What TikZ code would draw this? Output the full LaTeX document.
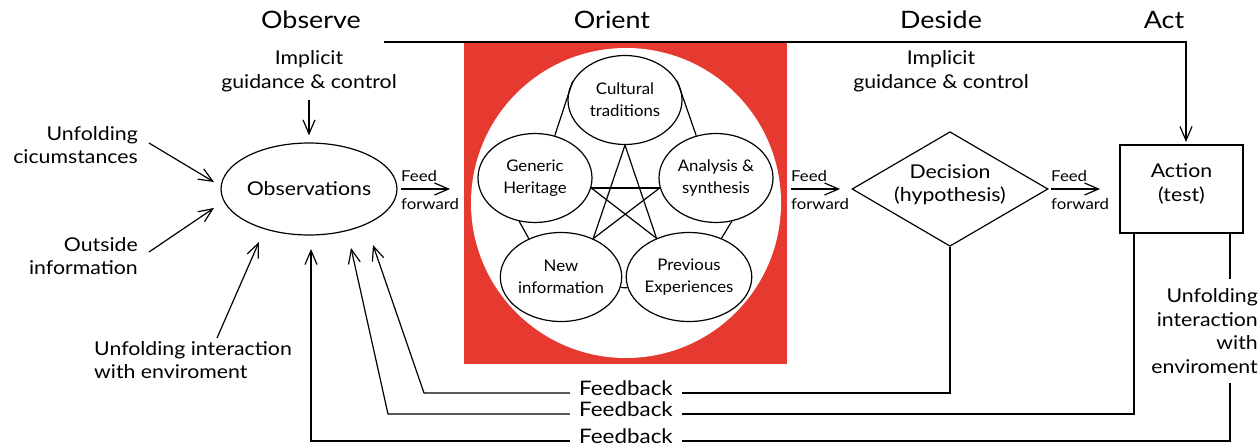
\documentclass[tikz,border=0pt]{standalone}
\usepackage{fontspec}
\setmainfont{Lato}[FakeStretch=1.12]
\newfontfamily\ideafont{Lato}[FakeStretch=1.05]
\usetikzlibrary{shapes.geometric}
\usetikzlibrary{arrows.meta}
\definecolor{orientred}{HTML}{E63A30}
\tikzset{
  phase/.style={font=\fontsize{24}{28}\selectfont, inner sep=0pt},
  lbl/.style={font=\fontsize{19}{23.5}\selectfont, inner sep=0pt},
  ff/.style={font=\fontsize{15}{20}\selectfont, inner sep=0pt},
  fb/.style={font=\fontsize{20}{24}\selectfont, inner xsep=9pt, inner ysep=0pt},
  idea/.style={ellipse, draw, line width=1.2pt, minimum width=114pt,
    minimum height=89pt, inner sep=0pt, align=center,
    font=\ideafont\fontsize{16}{22}\selectfont},
  link/.style={line width=1.2pt},
  arr/.style={line width=1.2pt, -{Straight Barb[length=14pt,width=12pt]}},
}

\begin{document}
\begin{tikzpicture}[x=1pt, y=-1pt]
  \useasboundingbox (0,0) rectangle (1260,447);

  % Orient backdrop
  \fill[orientred] (464,42) rectangle (787,364);
  \fill[white] (626,203) circle[radius=155pt];

  % Phase titles
  \node[phase] (observe) at (311,20) {Observe};
  \node[phase] (orient) at (612,20) {Orient};
  \node[phase] (deside) at (941,20) {Deside};
  \node[phase] (act) at (1164,20) {Act};

  % Define nodes
  \node[ellipse, draw, link, minimum width=174pt, minimum height=92pt,
    inner sep=0pt, lbl] (obs) at (309,189) {Observations};
  \node[diamond, draw, link, aspect=1.71, minimum width=195pt,
    minimum height=114pt, lbl, align=center, text depth=12pt] (dec) at (950,189) {Decision\\(hypothesis)};
  \node[draw, link, minimum width=123pt, minimum height=88pt, lbl,
    align=center, text depth=13pt] (action) at (1181.5,189) {Action\\(test)};

  \node[idea] (tradition) at (625,100) {Cultural\\traditions};
  \node[idea] (heritage) at (535,178) {Generic\\Heritage};
  \node[idea] (analysis) at (716,178) {Analysis \&\\synthesis};
  \node[idea] (newinfo) at (561,277) {New\\information};
  \node[idea] (experience) at (689,277) {Previous\\Experiences};

  % Labels
  \node[lbl, align=center] (guideobs) at (309,71) {Implicit\\guidance \& control};
  \node[lbl, align=center] (guideact) at (941,71) {Implicit\\guidance \& control};
  \node[lbl, align=right, anchor=east] (circum) at (138,145) {Unfolding\\cicumstances};
  \node[lbl, align=right, anchor=east] (outside) at (138,256) {Outside\\information};
  \node[lbl, align=left, anchor=west] (interact) at (94,360) {Unfolding interaction\\with enviroment};
  \node[lbl, align=right, anchor=east, inner ysep=9pt] (envact) at (1258,331)
    {Unfolding\\interaction\\with\\enviroment};

  \node[fb, anchor=mid] (fb1) at (626,393) {Feedback};
  \node[fb, anchor=mid] (fb2) at (626,414) {Feedback};
  \node[fb, anchor=mid] (fb3) at (626,441) {Feedback};

  % Free ends
  \coordinate (guide) at (384,42);
  \coordinate (actin) at (1186,142);
  \coordinate (actl) at ([xshift=-47.5pt]action.south);
  \coordinate (actr) at ([xshift=48.5pt]action.south);
  \coordinate (tipcirc) at (214,182);
  \coordinate (tipout) at (214,208);
  \coordinate (tipint) at (259,242);
  \coordinate (bend1) at (424,393);
  \coordinate (bend2) at (388,414);
  \coordinate (tipfb1) at (373,245);
  \coordinate (tipfb2) at (351,248);
  \coordinate (tipfb3) at (311,249);

  % Feed forward
  \foreach \fx/\fend in {401/450, 791/840, 1051/1100} {
    \node[ff, anchor=base west] (feed\fx) at (\fx,181) {Feed};
    \node[ff, anchor=base west] (fwd\fx) at (\fx,209) {forward};
    \draw[arr] (\fx,189) -- (\fend,189);
  }

  % Connect nodes
  \draw[arr] (guide) -| (actin);
  \draw[arr, shorten <=8pt, shorten >=7pt] (guideobs.south) -- (obs.north);
  \draw[arr] ([shift={(11,-2)}]circum.east) -- (tipcirc);
  \draw[arr] ([shift={(11,-4)}]outside.east) -- (tipout);
  \draw[arr] ([shift={(24,-3)}]interact.north) -- (tipint);

  % Orient links
  \draw[link] (tradition.160) -- (heritage.65);
  \draw[link] (tradition.20) -- (analysis.115);
  \draw[link] (heritage.250) -- (newinfo.130);
  \draw[link] (analysis.290) -- (experience.50);
  \draw[link] (newinfo.350) -- (experience.190);
  \draw[link] (tradition.south) -- (newinfo.50);
  \draw[link] (tradition.south) -- (experience.130);
  \draw[link] (heritage.350) -- (analysis.190);
  \draw[link] (heritage.350) -- (experience.130);
  \draw[link] (analysis.190) -- (newinfo.50);

  % Feedback loops
  \draw[link] (dec.south) |- (fb1.mid east);
  \draw[arr] (fb1.mid west) -- (bend1) -- (tipfb1);
  \draw[link] (actl) |- (fb2.mid east);
  \draw[arr] (fb2.mid west) -- (bend2) -- (tipfb2);
  \draw[link] (actr) -- (actr |- envact.north);
  \draw[link] (actr |- envact.south) |- (fb3.mid east);
  \draw[arr] (fb3.mid west) -| (tipfb3);

\end{tikzpicture}
\end{document}
